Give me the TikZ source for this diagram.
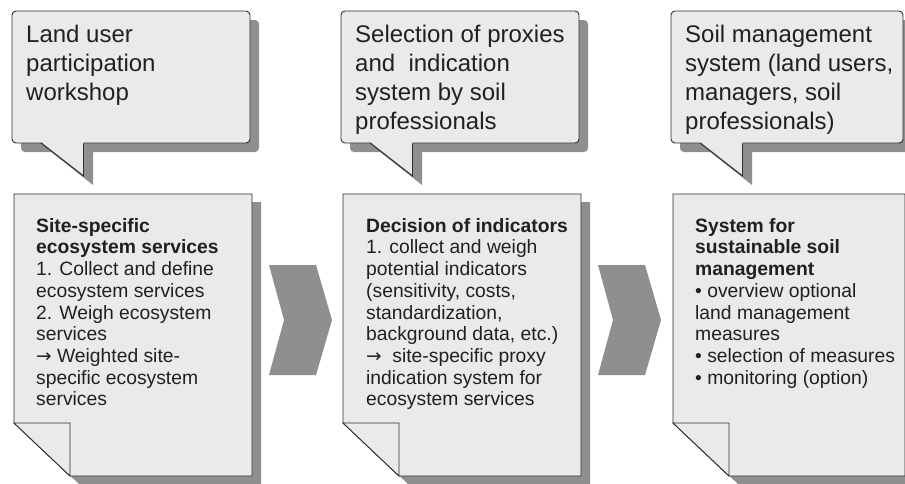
\documentclass[tikz,border=0pt]{standalone}
\usepackage{fontspec}
\setmainfont{Liberation Sans}
\newfontfamily\arrowfont{DejaVu Sans}
\newcommand\rarr{{\arrowfont\fontsize{18.5}{21.7}\selectfont →}}
\newcommand\firstline[1]{\rule{0pt}{#1pt}}
\definecolor{boxfill}{HTML}{EAEAEC}
\definecolor{shade}{HTML}{8F8F91}
\definecolor{edge}{HTML}{2E2E2E}
\definecolor{ink}{HTML}{231F20}
\tikzset{
  shadowfill/.style={fill=shade, draw=none},
  paperfill/.style={fill=boxfill, draw=edge, line width=0.9pt, line join=miter},
  edgeline/.style={draw=edge, line width=0.9pt, line join=miter},
  calltext/.style={anchor=north west, align=left, inner sep=0pt, text=ink, font=\fontsize{24}{29}\selectfont},
  doctext/.style={anchor=north west, align=left, inner sep=0pt, text=ink, font=\fontsize{19.3}{21.7}\selectfont},
  chevron/.style={fill=shade, draw=none}
}
% #1 xshift, #2 callout width, #3 prefix
\newcommand\panelshapes[3]{%
  \begin{scope}[xshift=#1pt]
    % callout shadow
    \fill[shadowfill, rounded corners=4pt] (9,20) rectangle (#2+9,152);
    \fill[shadowfill] (38,151) -- (81,185) -- (81,151) -- cycle;
    % callout
    \filldraw[paperfill, rounded corners=4pt] (0,11) rectangle (#2,143);
    \fill[boxfill] (29.6,142.2) -- (71.5,175) -- (71.5,142.2) -- cycle;
    \draw[edgeline] (29,143) -- (71.5,176) -- (71.5,143.4);
    \coordinate (#3tip) at (71.5,176);
    % document shadow
    \fill[shadowfill] (11,202) -- (#2+11,202) -- (#2+11,484) -- (67,484) -- (11,431) -- cycle;
    % document
    \filldraw[paperfill] (2,194) -- (#2+2,194) -- (#2+2,476) -- (58,476) -- (2,423) -- cycle;
    \filldraw[paperfill] (2,423) -- (58,423) -- (58,476) -- cycle;
  \end{scope}}
\begin{document}
\begin{tikzpicture}[x=1pt,y=-1pt]
  \useasboundingbox (0,0) rectangle (905,483);
  \fill[white] (0,0) rectangle (905,483);

  \panelshapes{12}{238}{a}
  \panelshapes{341}{238}{b}
  \panelshapes{671}{232}{c}

  % chevrons
  \fill[chevron] (269,265) -- (316,265) -- (332,320) -- (316,375) -- (269,375) -- (284,320) -- cycle;
  \fill[chevron] (598,265) -- (645,265) -- (661,320) -- (645,375) -- (598,375) -- (613,320) -- cycle;

  % callout texts (first baseline at y=42)
  \node[calltext] (ca) at (26,22) {\firstline{20}Land user\\participation\\workshop};
  \node[calltext] (cb) at (355,22) {\firstline{20}Selection of proxies\\and\ \ indication\\system by soil\\professionals};
  \node[calltext] (cc) at (685,22) {\firstline{20}Soil management\\system (land users,\\managers, soil\\professionals)};

  % document texts (first baseline at y=232)
  \node[doctext] (da) at (36,216) {\firstline{16}\textbf{Site-specific}\\\textbf{ecosystem services}\\1. Collect and define\\ecosystem services\\2. Weigh ecosystem\\services\\\rarr\ Weighted site-\\specific ecosystem\\services};
  \node[doctext] (db) at (366,216) {\firstline{16}\textbf{Decision of indicators}\\1. collect and weigh\\potential indicators\\(sensitivity, costs,\\standardization,\\background data, etc.)\\\rarr\ \ site-specific proxy\\indication system for\\ecosystem services};
  \node[doctext] (dc) at (695,216) {\firstline{16}\textbf{System for}\\\textbf{sustainable soil}\\\textbf{management}\\• overview optional\\land management\\measures\\• selection of measures\\• monitoring (option)};
\end{tikzpicture}
\end{document}
